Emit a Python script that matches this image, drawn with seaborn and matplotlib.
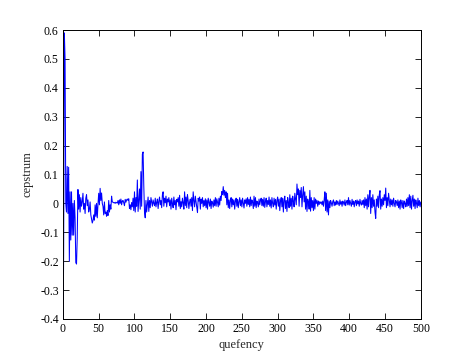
import numpy as np
import pandas as pd
import matplotlib
matplotlib.use("Agg")
import matplotlib.pyplot as plt
import seaborn as sns

# cepstrum values, one per quefrency sample (0..500)
cepstrum = [
    -0.55, -0.17, 0.59, 0.50, 0.00, -0.03, 0.128, -0.035, 0.125, -0.20,
    0.04, -0.127, 0.04, -0.11, 0.00, -0.11, 0.01, -0.05, -0.205, -0.21,
    -0.12, 0.048, -0.02, 0.03, -0.03, 0.02, -0.01, 0.005, 0.035, -0.02,
    0.000, -0.035, 0.018, 0.030, -0.008, 0.012, -0.030, -0.020, 0.005, -0.040,
    -0.055, -0.068, -0.060, -0.040, -0.058, -0.005, -0.045, 0.000, -0.050, -0.003,
    0.035, -0.005, 0.052, 0.010, 0.036, 0.000, -0.010, -0.040, 0.005, -0.035,
    -0.030, -0.045, -0.025, -0.042, 0.010, -0.030, -0.005, -0.020, 0.025, 0.005,
    0.004, 0.002, 0.003, 0.000, 0.004, 0.002, 0.001, 0.010, -0.005, 0.012,
    0.000, 0.015, -0.005, 0.008, 0.010, 0.002, -0.008, 0.014, 0.004, 0.012,
    0.015, 0.010, 0.016, -0.018, -0.005, -0.022, 0.003, -0.012, 0.018, -0.025,
    0.040, -0.030, 0.020, -0.010, 0.081, -0.028, 0.010, 0.050, -0.020, 0.110,
    -0.010, 0.170, 0.178, 0.060, -0.030, -0.050, 0.010, -0.030, -0.005, 0.022,
    -0.028, 0.010, -0.015, 0.020, 0.005, -0.010, 0.012, 0.000, -0.008, 0.018,
    -0.012, 0.004, 0.015, -0.018, 0.008, 0.022, -0.005, 0.010, -0.015, 0.030,
    0.040, -0.010, 0.018, 0.002, 0.025, -0.012, 0.015, 0.005, 0.020, -0.008,
    0.012, -0.020, 0.018, 0.000, -0.015, 0.022, -0.005, 0.010, -0.022, 0.014,
    0.005, 0.020, -0.010, 0.028, -0.018, 0.006, -0.012, 0.018, 0.002, -0.020,
    0.040, -0.008, 0.022, -0.015, 0.030, 0.010, -0.018, 0.005, 0.015, -0.010,
    0.020, -0.025, 0.040, 0.010, -0.012, 0.025, 0.005, -0.015, -0.032, 0.018,
    0.008, 0.022, -0.020, 0.015, 0.000, 0.020, -0.012, 0.010, -0.008, 0.016,
    -0.015, 0.012, -0.020, 0.018, 0.005, -0.010, 0.015, -0.018, 0.008, 0.002,
    -0.013, 0.012, -0.008, 0.020, -0.010, 0.016, 0.004, -0.012, 0.018, -0.006,
    0.025, 0.010, 0.041, 0.030, 0.058, 0.028, 0.045, 0.020, 0.040, -0.005,
    0.035, -0.015, 0.012, -0.018, 0.010, 0.020, -0.012, 0.015, -0.005, 0.012,
    -0.020, 0.008, 0.018, -0.010, 0.014, -0.015, 0.006, 0.020, -0.008, 0.012,
    -0.012, 0.018, 0.002, -0.016, 0.012, 0.000, 0.016, -0.010, 0.020, -0.004,
    0.014, -0.012, 0.022, -0.008, 0.012, 0.004, -0.018, 0.025, -0.010, 0.020,
    -0.015, 0.008, 0.002, -0.012, 0.015, -0.005, 0.010, 0.018, -0.008, 0.014,
    -0.010, 0.020, -0.014, 0.006, 0.018, -0.012, 0.010, -0.004, 0.022, -0.010,
    0.012, -0.016, 0.020, 0.000, -0.012, 0.018, -0.006, 0.014, -0.020, 0.010,
    0.022, -0.010, 0.015, -0.025, 0.008, 0.020, -0.012, 0.018, -0.030, 0.012,
    0.025, -0.018, 0.010, -0.028, 0.020, 0.004, -0.015, 0.030, -0.010, 0.018,
    -0.020, 0.025, 0.008, -0.012, 0.035, 0.015, -0.005, 0.067, 0.030, 0.050,
    -0.010, 0.045, 0.020, 0.055, -0.012, 0.030, 0.058, 0.005, 0.040, -0.020,
    0.025, -0.028, 0.015, 0.005, -0.020, 0.045, -0.027, 0.020, -0.015, 0.010,
    -0.025, 0.020, -0.020, 0.015, 0.000, 0.010, -0.010, 0.008, -0.004, 0.006,
    0.000, 0.005, -0.005, 0.008, -0.010, 0.012, 0.040, -0.025, 0.035, -0.030,
    0.012, -0.040, 0.008, -0.015, 0.010, 0.002, -0.010, 0.006, 0.012, -0.008,
    0.005, -0.006, 0.010, -0.004, 0.008, 0.000, -0.008, 0.012, -0.003, 0.006,
    -0.010, 0.008, 0.002, -0.006, 0.012, -0.008, 0.004, 0.010, -0.005, 0.020,
    -0.006, 0.010, 0.000, -0.010, 0.014, -0.004, 0.008, -0.012, 0.006, 0.010,
    -0.008, 0.012, -0.002, 0.008, -0.010, 0.014, 0.000, -0.006, 0.010, -0.004,
    0.012, -0.015, 0.020, -0.008, 0.015, -0.020, 0.030, -0.012, 0.025, 0.045,
    -0.035, 0.020, -0.015, 0.030, -0.010, 0.012, -0.030, -0.052, 0.015, -0.010,
    0.025, -0.015, 0.030, 0.044, -0.020, 0.015, -0.010, 0.020, -0.005, 0.030,
    0.010, 0.053, -0.015, 0.020, -0.008, 0.035, 0.010, -0.012, 0.015, -0.005,
    0.012, -0.010, 0.018, 0.000, -0.012, 0.010, 0.004, -0.008, 0.012, -0.015,
    0.008, -0.020, 0.012, 0.002, -0.015, 0.010, -0.018, 0.008, 0.000, -0.012,
    0.015, -0.010, 0.020, -0.008, 0.030, -0.015, 0.025, -0.020, 0.010, 0.028,
    -0.010, 0.015, -0.018, 0.012, 0.000, -0.015, 0.018, -0.008, 0.010, -0.012,
    0.005,
]
quefrency = list(range(len(cepstrum)))

x_ticks = [0, 50, 100, 150, 200, 250, 300, 350, 400, 450, 500]
y_ticks = [-0.4, -0.3, -0.2, -0.1, 0, 0.1, 0.2, 0.3, 0.4, 0.5, 0.6]
y_tick_labels = ["-0.4", "-0.3", "-0.2", "-0.1", "0", "0.1", "0.2", "0.3", "0.4", "0.5", "0.6"]

sns.set_style("ticks")
plt.rcParams["font.family"] = ["Liberation Serif", "DejaVu Serif"]

df = pd.DataFrame({"quefency": quefrency, "cepstrum": cepstrum})

fig = plt.figure(figsize=(4.66, 3.62), dpi=100, facecolor="white")
ax = fig.add_axes([0.135, 0.119, 0.768, 0.798])
sns.lineplot(data=df, x="quefency", y="cepstrum", ax=ax, color="#0000ff",
             linewidth=0.75, estimator=None, sort=False)

ax.set_xlim(0, 500)
ax.set_ylim(-0.4, 0.6)
ax.set_xticks(x_ticks)
ax.set_xticklabels([str(t) for t in x_ticks])
ax.set_yticks(y_ticks)
ax.set_yticklabels(y_tick_labels)
ax.tick_params(direction="in", length=4, width=0.6, labelsize=8.5,
               top=True, right=True, colors="black", pad=3)
for s in ax.spines.values():
    s.set_visible(True)
    s.set_linewidth(0.7)
    s.set_color("black")
ax.set_xlabel("quefency", fontsize=9, labelpad=3)
ax.set_ylabel("cepstrum", fontsize=9, labelpad=5)
ax.grid(False)

fig.savefig("out.png", dpi=100, facecolor="white")
